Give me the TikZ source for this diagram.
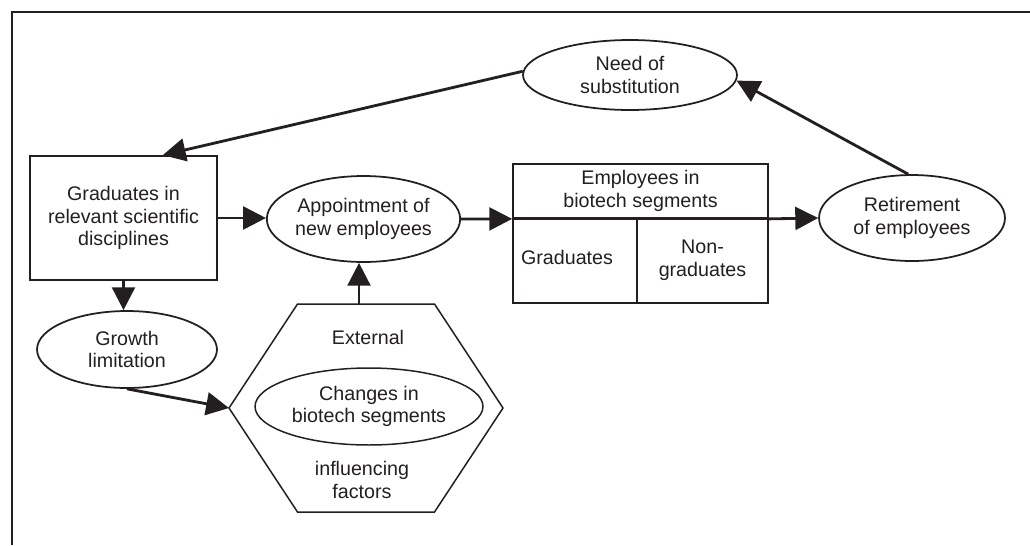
\documentclass[tikz,border=0pt]{standalone}
\usepackage{fontspec}
\setmainfont{Liberation Sans}
\usetikzlibrary{shapes.geometric,arrows.meta}
\definecolor{ink}{HTML}{231F20}
\tikzset{every picture/.style={x=0.02cm,y=-0.02cm,draw=ink}}
\tikzset{every node/.style={align=center,inner sep=0pt,text=ink,font=\fontsize{11.2}{12.8}\selectfont}}
\tikzset{oval/.style={draw,ellipse,line width=1pt}}
\tikzset{box/.style={draw,rectangle,line width=1pt}}
\tikzset{flow/.style={line width=1.6pt,-{Triangle[length=13pt,width=13pt]}}}
\begin{document}
\begin{tikzpicture}
\useasboundingbox (0,0) rectangle (1030,545);
\draw[line width=1.2pt] (1030,12) -- (12,12) -- (12,545);
\node[oval,minimum width=4.28cm,minimum height=1.4cm] (need) at (630,75) {Need of\\substitution};
\node[box,minimum width=3.74cm,minimum height=2.48cm] (grad) at (123.5,218) {Graduates in\\relevant scientific\\disciplines};
\node[oval,minimum width=3.78cm,minimum height=1.72cm] (appt) at (363.5,219) {Appointment of\\new employees};
\node[box,minimum width=5.1cm,minimum height=1.08cm] (emp) at (640.5,191) {Employees in\\biotech segments};
\node[box,minimum width=2.48cm,minimum height=1.7cm] (grads) at (575,260.5) {};
\node (gradl) at (567,257) {Graduates};
\node[box,minimum width=2.62cm,minimum height=1.7cm] (nongrad) at (702.5,260.5) {Non-\\graduates};
\node[oval,minimum width=3.72cm,minimum height=1.72cm] (ret) at (912,218) {Retirement\\of employees};
\node[oval,minimum width=3.6cm,minimum height=1.54cm] (grow) at (127,349.5) {Growth\\limitation};
\node[oval,minimum width=4.56cm,minimum height=1.54cm,line width=0.85pt] (chg) at (369,406.5) {Changes in\\biotech segments};
\node (extl) at (368,337) {External};
\node (infl) at (362,480) {influencing\\factors};
\coordinate (hexL) at (229,408);
\coordinate (hexT) at (359,304);
\draw[line width=0.85pt] (hexL) -- (297.5,304) -- (434.5,304) -- (503,408) -- (434.5,512) -- (297.5,512) -- cycle;
\draw[flow] (need.178) -- (grad.58);
\draw[flow] (ret.95) -- (need.-3);
\draw[flow] (grad.east) -- (grad.east -| appt.west);
\draw[flow] (appt.east) -- (emp.south west);
\draw[line width=1.6pt] (emp.south west) -- (emp.south east);
\draw[flow] (emp.south east) -- (ret.west);
\draw[flow] (grad.south) -- (grad.south |- grow.north);
\draw[flow] (grow.south) -- (hexL);
\draw[flow] (hexT) -- (hexT |- appt.south);
\end{tikzpicture}
\end{document}
